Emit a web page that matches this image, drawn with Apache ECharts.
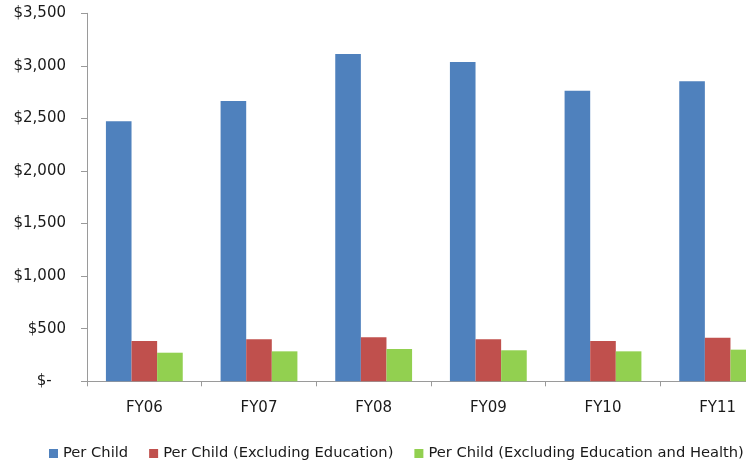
<!DOCTYPE html>
<html>
<head>
<meta charset="utf-8">
<script src="https://cdn.jsdelivr.net/npm/echarts@6/dist/echarts.min.js"></script>
<style>html,body{margin:0;padding:0;background:#fff;overflow:hidden;width:746px;height:460px;}#c{width:775px;height:460px;}</style>
</head>
<body>
<div id="c"></div>
<script>
var categories = ['FY06', 'FY07', 'FY08', 'FY09', 'FY10', 'FY11'];
var perChild = [2473, 2666, 3113, 3037, 2764, 2853];
var perChildExEdu = [383, 399, 418, 399, 383, 415];
var perChildExEduHealth = [272, 285, 307, 295, 285, 301];
var seriesNames = ['Per Child', 'Per Child (Excluding Education)', 'Per Child (Excluding Education and Health)'];

var chart = echarts.init(document.getElementById('c'), null, {renderer: 'canvas'});
var font = 'DejaVu Sans';
var textColor = '#1a1a1a';
chart.setOption({
  animation: false,
  textStyle: {fontFamily: font},
  grid: {left: 87, right: 0, top: 13.3, bottom: 78.7, containLabel: false},
  legend: {
    data: seriesNames,
    left: 44,
    top: 441,
    itemWidth: 9,
    itemHeight: 9,
    itemGap: 21,
    icon: 'rect',
    textStyle: {fontFamily: font, fontSize: 14.7, color: textColor}
  },
  xAxis: {
    type: 'category',
    data: categories,
    boundaryGap: true,
    axisLine: {lineStyle: {color: '#9a9a9a', width: 1}},
    axisTick: {show: true, length: 5, lineStyle: {color: '#9a9a9a'}},
    axisLabel: {fontFamily: font, fontSize: 15, color: textColor, margin: 19}
  },
  yAxis: {
    type: 'value',
    min: 0,
    max: 3500,
    interval: 500,
    splitLine: {show: false},
    axisLine: {show: true, lineStyle: {color: '#9a9a9a', width: 1}},
    axisTick: {show: true, length: 6, lineStyle: {color: '#9a9a9a'}},
    axisLabel: {
      fontFamily: font, fontSize: 15, color: textColor, margin: 21,
      formatter: function (v) {
        if (v === 0) return '$-\u00a0\u00a0\u00a0';
        return '$' + v.toLocaleString('en-US');
      }
    }
  },
  series: [
    {name: seriesNames[0], type: 'bar', data: perChild, barGap: '0%', barCategoryGap: '33%', itemStyle: {color: '#4F81BD'}},
    {name: seriesNames[1], type: 'bar', data: perChildExEdu, barGap: '0%', barCategoryGap: '33%', itemStyle: {color: '#C0504D'}},
    {name: seriesNames[2], type: 'bar', data: perChildExEduHealth, barGap: '0%', barCategoryGap: '33%', itemStyle: {color: '#92D050'}}
  ]
});
</script>
</body>
</html>
